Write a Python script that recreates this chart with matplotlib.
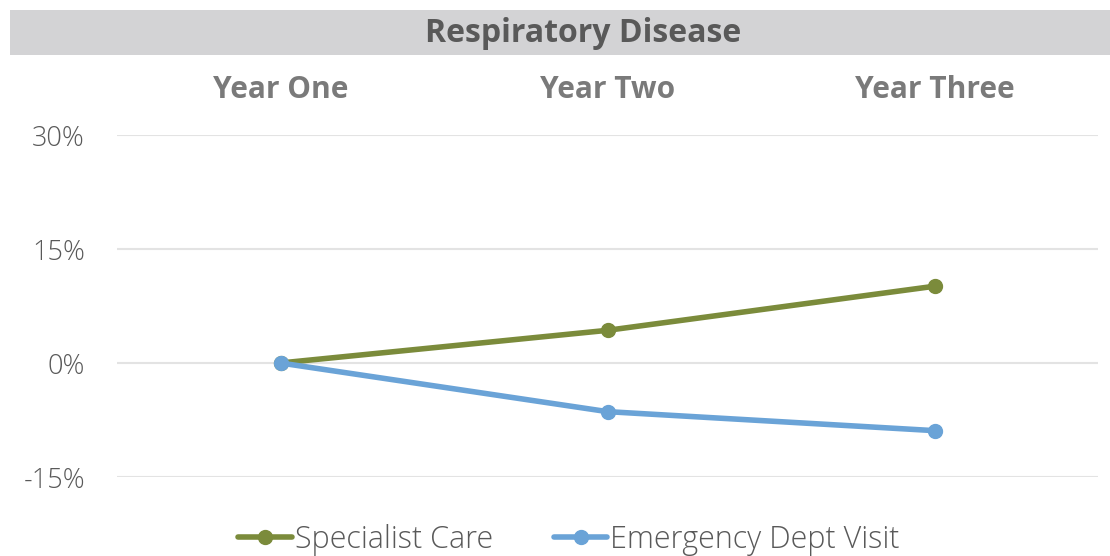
import matplotlib
matplotlib.use("Agg")
import matplotlib.pyplot as plt
import matplotlib.transforms as mtransforms
from matplotlib.patches import Rectangle
from matplotlib.ticker import FuncFormatter

categories = ["Year One", "Year Two", "Year Three"]
specialist_care = [0.0, 4.3, 10.1]
emergency_visit = [0.0, -6.4, -8.9]
yticks = [-15, 0, 15, 30]
title = "Respiratory Disease"

green = "#7B8B3B"
blue = "#6AA3D7"
grid_c = "#E3E3E3"
txt = "#595959"
cat_c = "#7A7A7A"

plt.rcParams['font.family'] = ['Open Sans', 'DejaVu Sans']

fig = plt.figure(figsize=(11.1, 5.56), dpi=100)
ax = fig.add_axes([117/1110, 1-477/556, (1098-117)/1110, (477-135)/556])

x = list(range(len(categories)))
ax.plot(x, specialist_care, color=green, lw=4, marker='o', ms=10, solid_capstyle='round',
        solid_joinstyle='round', zorder=3, label="Specialist Care")
ax.plot(x, emergency_visit, color=blue, lw=4, marker='o', ms=10, solid_capstyle='round',
        solid_joinstyle='round', zorder=3, label="Emergency Dept Visit")

ax.set_xlim(-0.5, len(categories) - 0.5)
ax.set_ylim(-15, 30)
ax.set_yticks(yticks)
ax.yaxis.set_major_formatter(FuncFormatter(lambda v, p: f"{int(v)}%"))
ax.tick_params(axis='y', length=0, pad=23, labelsize=19.5, labelcolor=txt)
for lab in ax.get_yticklabels():
    lab.set_fontweight('light')
ax.set_xticks([])
ax.grid(axis='y', color=grid_c, lw=1.5, zorder=0)
for s in ax.spines.values():
    s.set_visible(False)

# category labels at the top
trans = mtransforms.blended_transform_factory(ax.transData, fig.transFigure)
for i, c in enumerate(categories):
    ax.text(i, 1 - 90/556, c, transform=trans, ha='center', va='center',
            fontsize=21.5, fontweight='bold', color=cat_c)

# title bar
fig.patches.append(Rectangle((10/1110, 1-55/556), 1100/1110, 45/556, transform=fig.transFigure,
                             facecolor="#D3D3D5", edgecolor='none', zorder=0))
fig.text(583/1110, 1-33/556, title, ha='center', va='center', fontsize=23, fontweight='bold',
         color=txt)

leg = fig.legend(loc='center', bbox_to_anchor=(569/1110, 1-540/556), ncol=2,
                 frameon=False, fontsize=22, handlelength=1.75, columnspacing=2.0,
                 handletextpad=0.1, labelcolor=txt)
for l in leg.get_texts():
    l.set_fontweight('light')

fig.savefig("out.png", dpi=100, facecolor='white')
